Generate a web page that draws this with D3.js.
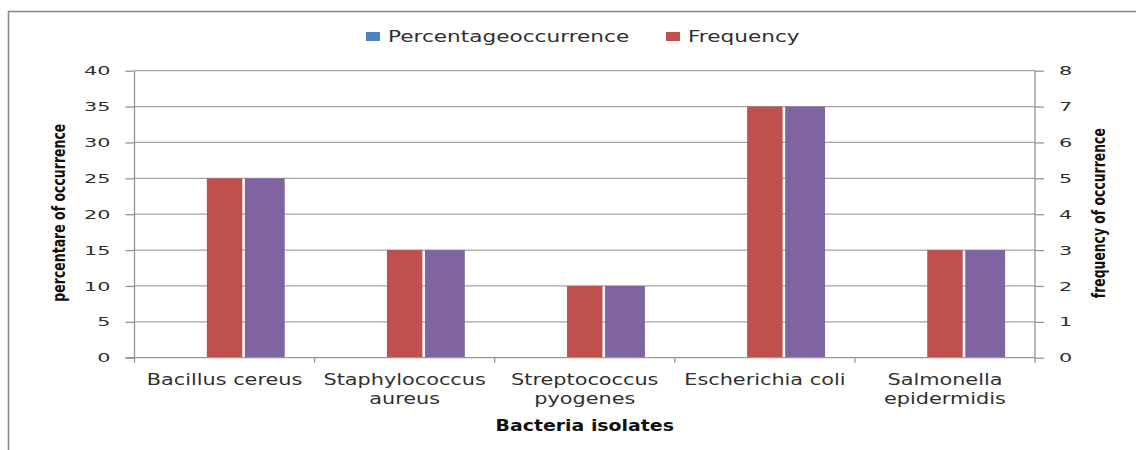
<!DOCTYPE html>
<html>
<head>
<meta charset="utf-8">
<script src="https://cdn.jsdelivr.net/npm/d3@7"></script>
<style>
  html, body { margin: 0; padding: 0; background: #fff; }
  svg { display: block; font-family: "DejaVu Sans", sans-serif; }
</style>
</head>
<body>
<svg id="chart" width="1136" height="450"></svg>
<script>
// Bacteria isolates and their occurrence
const categories = [
  "Bacillus cereus",
  "Staphylococcus aureus",
  "Streptococcus pyogenes",
  "Escherichia coli",
  "Salmonella epidermidis"
];
const categoryLines = [
  ["Bacillus cereus"],
  ["Staphylococcus", "aureus"],
  ["Streptococcus", "pyogenes"],
  ["Escherichia coli"],
  ["Salmonella", "epidermidis"]
];
const percentage = [25, 15, 10, 35, 15];   // left axis (%)
const frequency = [5, 3, 2, 7, 3];         // right axis (count)
const leftTicks = [0, 5, 10, 15, 20, 25, 30, 35, 40];
const rightTicks = [0, 1, 2, 3, 4, 5, 6, 7, 8];
const legendItems = [
  { name: "Percentageoccurrence", color: "#4f81bd" },
  { name: "Frequency", color: "#c0504d" }
];
const slots = ["pct", "freq", "extra"];

const svg = d3.select("#chart");
const m = { left: 134.5, right: 1035, top: 70.7, bottom: 357.7 };

// stretch text horizontally to the wide look of the labels
function widen(sel, k) {
  sel.each(function () {
    const w = this.getComputedTextLength();
    d3.select(this).attr("textLength", w * k).attr("lengthAdjust", "spacingAndGlyphs");
  });
}
// squeeze or stretch text to a fixed run length
function fitTo(sel, len) {
  sel.attr("textLength", len).attr("lengthAdjust", "spacingAndGlyphs");
}

// chart area frame (left and top edges in view)
svg.append("rect")
  .attr("x", 8.5).attr("y", 11.5).attr("width", 1200).attr("height", 600)
  .attr("fill", "none").attr("stroke", "#8a8a8a").attr("stroke-width", 1.6);

const x0 = d3.scaleBand().domain(categories).range([m.left, m.right]).padding(0);
const x1 = d3.scaleBand().domain(slots).range([0, x0.bandwidth()])
  .paddingInner(0).paddingOuter(1.04);
const yL = d3.scaleLinear().domain([0, 40]).range([m.bottom, m.top]);
const yR = d3.scaleLinear().domain([0, 8]).range([m.bottom, m.top]);

// horizontal gridlines
svg.append("g").selectAll("line").data(leftTicks.filter(d => d > 0)).join("line")
  .attr("x1", m.left).attr("x2", m.right)
  .attr("y1", d => yL(d)).attr("y2", d => yL(d))
  .attr("stroke", "#a3a3a3").attr("stroke-width", 1.3);

// bars: frequency on the right axis, percentage on the left axis
svg.append("g").selectAll("rect").data(frequency).join("rect")
  .attr("x", (d, i) => x0(categories[i]) + x1("freq"))
  .attr("width", x1.bandwidth())
  .attr("y", d => yR(d))
  .attr("height", d => m.bottom - yR(d))
  .attr("fill", "#c0504d");

svg.append("g").selectAll("rect").data(percentage).join("rect")
  .attr("x", (d, i) => x0(categories[i]) + x1("extra") + 2.6)
  .attr("width", x1.bandwidth() + 4.4)
  .attr("y", d => yL(d))
  .attr("height", d => m.bottom - yL(d))
  .attr("fill", "#8064a2");

const axisColor = "#969696";
const tickColor = "#303030";

// left axis
const gL = svg.append("g").attr("transform", `translate(${m.left},0)`)
  .call(d3.axisLeft(yL).tickValues(leftTicks).tickSize(9).tickPadding(15).tickFormat(d3.format("d")));
gL.select(".domain").attr("stroke", axisColor).attr("stroke-width", 1.3).attr("d", `M0,${m.top}V${m.bottom}`);
gL.selectAll(".tick line").attr("stroke", axisColor).attr("stroke-width", 1.3);
gL.selectAll(".tick text").attr("font-size", 13).attr("fill", tickColor)
  .attr("font-family", "DejaVu Sans").call(widen, 1.6);

// right axis
const gR = svg.append("g").attr("transform", `translate(${m.right},0)`)
  .call(d3.axisRight(yR).tickValues(rightTicks).tickSize(9).tickPadding(15).tickFormat(d3.format("d")));
gR.select(".domain").attr("stroke", axisColor).attr("stroke-width", 1.3).attr("d", `M0,${m.top}V${m.bottom}`);
gR.selectAll(".tick line").attr("stroke", axisColor).attr("stroke-width", 1.3);
gR.selectAll(".tick text").attr("font-size", 13).attr("fill", tickColor)
  .attr("font-family", "DejaVu Sans").call(widen, 1.6);

// category axis
svg.append("line").attr("x1", m.left - 9).attr("x2", m.right)
  .attr("y1", m.bottom).attr("y2", m.bottom)
  .attr("stroke", axisColor).attr("stroke-width", 1.3);
const bounds = categories.map(c => x0(c)).concat([x0.range()[1]]);
svg.append("g").selectAll("line").data(bounds).join("line")
  .attr("x1", d => d).attr("x2", d => d)
  .attr("y1", m.bottom).attr("y2", m.bottom + 5)
  .attr("stroke", axisColor).attr("stroke-width", 1.3);

const catG = svg.append("g");
categoryLines.forEach((lines, i) => {
  lines.forEach((ln, j) => {
    catG.append("text")
      .attr("x", x0(categories[i]) + x0.bandwidth() / 2)
      .attr("y", 385 + j * 19)
      .attr("text-anchor", "middle")
      .attr("font-size", 16).attr("fill", tickColor)
      .text(ln);
  });
});
catG.selectAll("text").call(widen, 1.3);

// axis titles
svg.append("text")
  .attr("x", (m.left + m.right) / 2).attr("y", 431)
  .attr("text-anchor", "middle").attr("font-size", 15).attr("font-weight", "bold")
  .attr("fill", "#111")
  .text("Bacteria isolates").call(widen, 1.26);

svg.append("text")
  .attr("transform", `translate(65,${(m.top + m.bottom) / 2 - 1.5}) rotate(-90)`)
  .attr("text-anchor", "middle").attr("font-size", 17).attr("font-weight", "bold")
  .attr("fill", "#111")
  .text("percentare of occurrence").call(fitTo, 178);

svg.append("text")
  .attr("transform", `translate(1105,${(m.top + m.bottom) / 2 - 1}) rotate(-90)`)
  .attr("text-anchor", "middle").attr("font-size", 17).attr("font-weight", "bold")
  .attr("fill", "#111")
  .text("frequency of occurrence").call(fitTo, 170);

// legend
const legendX = [366, 666];
const lg = svg.append("g").selectAll("g").data(legendItems).join("g")
  .attr("transform", (d, i) => `translate(${legendX[i]},32)`);
lg.append("rect").attr("width", 14).attr("height", 9).attr("fill", d => d.color);
lg.append("text").attr("x", 22).attr("y", 9.5)
  .attr("font-size", 16).attr("fill", tickColor)
  .text(d => d.name).call(widen, 1.35);
</script>
</body>
</html>
